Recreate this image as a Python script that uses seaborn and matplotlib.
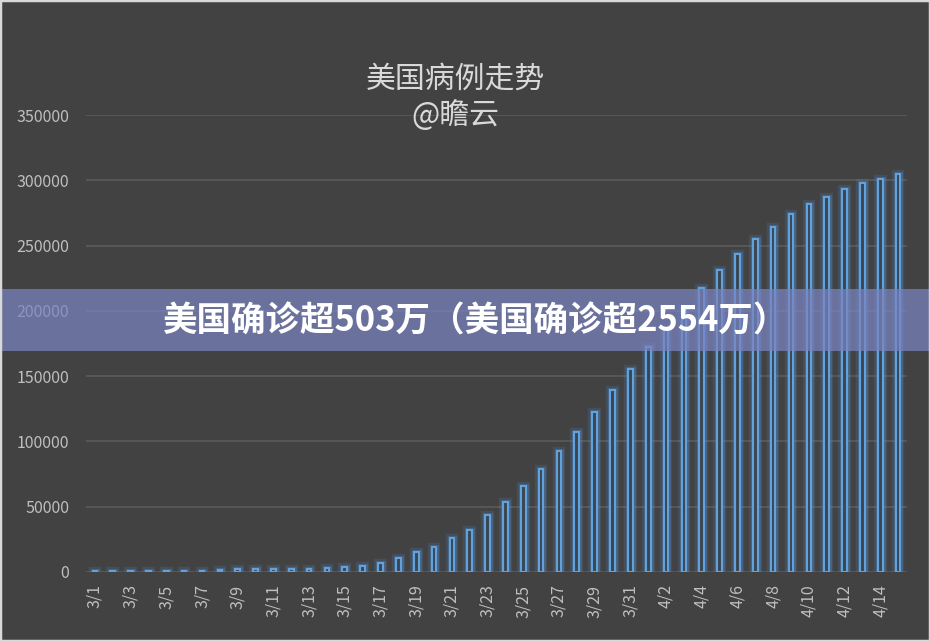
import matplotlib
matplotlib.use("Agg")
import matplotlib.pyplot as plt
import matplotlib.patheffects as pe
from matplotlib.patches import Rectangle
import seaborn as sns
import pandas as pd

# ---- data ----
dates = [f"3/{d}" for d in range(1, 32)] + [f"4/{d}" for d in range(1, 16)]
cases = [800, 800, 800, 900, 900, 900, 1000, 1800, 2000, 2100,
         2200, 2300, 2500, 2800, 3600, 4600, 7100, 10500, 15100, 19100,
         25800, 31900, 43400, 53300, 65600, 78600, 92400, 107400, 122700, 139100,
         155300, 172000, 186000, 202000, 217200, 231000, 243200, 254900, 264400, 273900,
         281500, 287400, 293000, 297600, 301100, 304500]
yticks = [0, 50000, 100000, 150000, 200000, 250000, 300000, 350000]
title_lines = ["美国病例走势", "@瞻云"]
banner_text = "美国确诊超503万（美国确诊超2554万）"

BG = "#424242"
BAR = "#62a2dc"
GRID = "#595959"
TXT = "#bfbfbf"

sns.set_theme(style="dark", rc={"axes.facecolor": BG, "figure.facecolor": BG})
plt.rcParams["font.family"] = ["Noto Sans CJK SC", "DejaVu Sans"]

df = pd.DataFrame({"date": dates, "cases": cases})

fig = plt.figure(figsize=(9.3, 6.41), dpi=100)
ax = fig.add_axes([86 / 930, (641 - 572) / 641, (907 - 86) / 930, (572 - 115) / 641])
ax.set_facecolor(BG)

sns.barplot(data=df, x="date", y="cases", ax=ax, width=0.26,
            color="#3b4550", edgecolor=BAR, linewidth=1.5, saturation=1, zorder=3)
for p in ax.patches:
    p.set_facecolor("#3b4550")
    p.set_path_effects([pe.Stroke(linewidth=6, foreground="#4f8fd0", alpha=0.18),
                        pe.Stroke(linewidth=3.5, foreground="#4f8fd0", alpha=0.35),
                        pe.Normal()])

ax.set_xlim(-0.5, len(dates) - 0.5)
ax.set_ylim(0, 350000)
ax.set_yticks(yticks)
ax.set_yticklabels([str(v) for v in yticks], color=TXT, fontsize=11.5)
ax.set_xticks(range(0, len(dates), 2))
ax.set_xticklabels(dates[::2], rotation=90, color=TXT, fontsize=11.5)
ax.tick_params(axis="both", length=0)
ax.tick_params(axis="y", pad=12)
ax.tick_params(axis="x", pad=9)
ax.set_xlabel("")
ax.set_ylabel("")
ax.grid(axis="y", color=GRID, linewidth=1.3, zorder=0)
ax.grid(axis="x", visible=False)
ax.set_axisbelow(True)
for s in ax.spines.values():
    s.set_visible(False)

# title
fig.text(455 / 930, 1 - 79 / 641, title_lines[0], ha="center", va="center",
         fontsize=21.5, color="#d9d9d9", zorder=10)
fig.text(455 / 930, 1 - 116 / 641, title_lines[1], ha="center", va="center",
         fontsize=21.5, color="#d9d9d9", zorder=10)

# banner overlay
fig.add_artist(Rectangle((0, 1 - 351 / 641), 1, 62 / 641, transform=fig.transFigure,
                         facecolor="#7b84c1", edgecolor="none", alpha=0.72, zorder=20))
fig.text(476 / 930, 1 - 321 / 641, banner_text, ha="center", va="center",
         fontsize=24.8, fontweight="bold", color="white", zorder=21)

# outer frame
fig.add_artist(Rectangle((0, 0), 1, 1, transform=fig.transFigure, fill=False,
                         edgecolor="#d9d9d9", linewidth=2.5, zorder=30))

fig.savefig("out.png", dpi=100, facecolor=BG)
